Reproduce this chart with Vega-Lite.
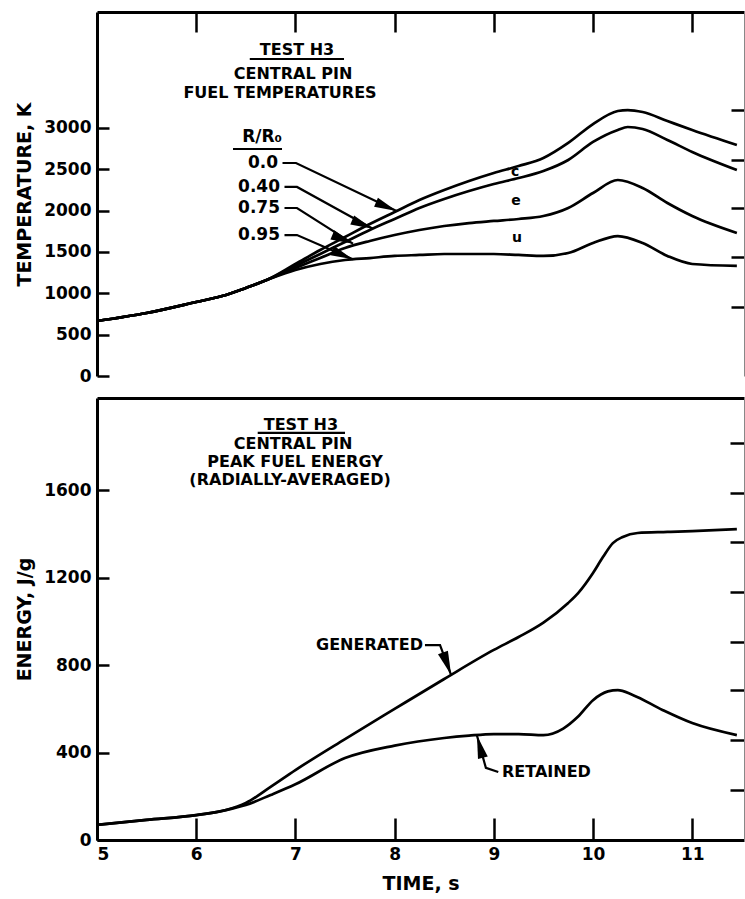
{
  "$schema": "https://vega.github.io/schema/vega-lite/v6.json",
  "background": "white",
  "padding": {"left": 15, "top": 10, "right": 0, "bottom": 4},
  "config": {
    "view": {"stroke": null},
    "font": "DejaVu Sans",
    "axis": {
      "grid": false,
      "format": "d",
      "domainColor": "black",
      "domainWidth": 3,
      "tickColor": "black",
      "tickWidth": 2.5,
      "labelColor": "black",
      "labelFont": "DejaVu Sans",
      "labelFontWeight": "bold",
      "labelFontSize": 17,
      "titleColor": "black",
      "titleFont": "DejaVu Sans",
      "titleFontWeight": "bold",
      "titleFontSize": 19
    }
  },
  "datasets": {
    "temperature": [
      {"time": 5.0, "radius": "0.0", "temp": 665}, {"time": 5.5, "radius": "0.0", "temp": 762}, {"time": 6.0, "radius": "0.0", "temp": 895}, {"time": 6.3, "radius": "0.0", "temp": 979}, {"time": 6.5, "radius": "0.0", "temp": 1064}, {"time": 6.71, "radius": "0.0", "temp": 1160},
      {"time": 7.0, "radius": "0.0", "temp": 1354}, {"time": 7.25, "radius": "0.0", "temp": 1523}, {"time": 7.5, "radius": "0.0", "temp": 1680}, {"time": 7.75, "radius": "0.0", "temp": 1837}, {"time": 8.0, "radius": "0.0", "temp": 1982}, {"time": 8.25, "radius": "0.0", "temp": 2127}, {"time": 8.5, "radius": "0.0", "temp": 2248}, {"time": 8.75, "radius": "0.0", "temp": 2357}, {"time": 9.0, "radius": "0.0", "temp": 2454}, {"time": 9.25, "radius": "0.0", "temp": 2538}, {"time": 9.5, "radius": "0.0", "temp": 2635}, {"time": 9.75, "radius": "0.0", "temp": 2817}, {"time": 10.0, "radius": "0.0", "temp": 3046}, {"time": 10.25, "radius": "0.0", "temp": 3203}, {"time": 10.35, "radius": "0.0", "temp": 3215}, {"time": 10.5, "radius": "0.0", "temp": 3191}, {"time": 10.75, "radius": "0.0", "temp": 3082}, {"time": 11.0, "radius": "0.0", "temp": 2974}, {"time": 11.45, "radius": "0.0", "temp": 2792},
      {"time": 5.0, "radius": "0.40", "temp": 665}, {"time": 5.5, "radius": "0.40", "temp": 762}, {"time": 6.0, "radius": "0.40", "temp": 895}, {"time": 6.3, "radius": "0.40", "temp": 979}, {"time": 6.5, "radius": "0.40", "temp": 1064}, {"time": 6.71, "radius": "0.40", "temp": 1160},
      {"time": 7.0, "radius": "0.40", "temp": 1330}, {"time": 7.25, "radius": "0.40", "temp": 1475}, {"time": 7.5, "radius": "0.40", "temp": 1620}, {"time": 7.75, "radius": "0.40", "temp": 1765}, {"time": 8.0, "radius": "0.40", "temp": 1898}, {"time": 8.25, "radius": "0.40", "temp": 2031}, {"time": 8.5, "radius": "0.40", "temp": 2140}, {"time": 8.75, "radius": "0.40", "temp": 2236}, {"time": 9.0, "radius": "0.40", "temp": 2321}, {"time": 9.25, "radius": "0.40", "temp": 2393}, {"time": 9.5, "radius": "0.40", "temp": 2478}, {"time": 9.75, "radius": "0.40", "temp": 2611}, {"time": 10.0, "radius": "0.40", "temp": 2829}, {"time": 10.25, "radius": "0.40", "temp": 2974}, {"time": 10.35, "radius": "0.40", "temp": 3010}, {"time": 10.5, "radius": "0.40", "temp": 2986}, {"time": 10.75, "radius": "0.40", "temp": 2853}, {"time": 11.0, "radius": "0.40", "temp": 2708}, {"time": 11.45, "radius": "0.40", "temp": 2490},
      {"time": 5.0, "radius": "0.75", "temp": 665}, {"time": 5.5, "radius": "0.75", "temp": 762}, {"time": 6.0, "radius": "0.75", "temp": 895}, {"time": 6.3, "radius": "0.75", "temp": 979}, {"time": 6.5, "radius": "0.75", "temp": 1064}, {"time": 6.71, "radius": "0.75", "temp": 1160},
      {"time": 7.0, "radius": "0.75", "temp": 1306}, {"time": 7.25, "radius": "0.75", "temp": 1426}, {"time": 7.5, "radius": "0.75", "temp": 1547}, {"time": 7.75, "radius": "0.75", "temp": 1632}, {"time": 8.0, "radius": "0.75", "temp": 1704}, {"time": 8.25, "radius": "0.75", "temp": 1765}, {"time": 8.5, "radius": "0.75", "temp": 1813}, {"time": 8.75, "radius": "0.75", "temp": 1849}, {"time": 9.0, "radius": "0.75", "temp": 1874}, {"time": 9.25, "radius": "0.75", "temp": 1898}, {"time": 9.5, "radius": "0.75", "temp": 1934}, {"time": 9.75, "radius": "0.75", "temp": 2031}, {"time": 10.0, "radius": "0.75", "temp": 2212}, {"time": 10.25, "radius": "0.75", "temp": 2369}, {"time": 10.5, "radius": "0.75", "temp": 2273}, {"time": 10.75, "radius": "0.75", "temp": 2091}, {"time": 11.0, "radius": "0.75", "temp": 1934}, {"time": 11.45, "radius": "0.75", "temp": 1729},
      {"time": 5.0, "radius": "0.95", "temp": 665}, {"time": 5.5, "radius": "0.95", "temp": 762}, {"time": 6.0, "radius": "0.95", "temp": 895}, {"time": 6.3, "radius": "0.95", "temp": 979}, {"time": 6.5, "radius": "0.95", "temp": 1064}, {"time": 6.71, "radius": "0.95", "temp": 1160},
      {"time": 7.0, "radius": "0.95", "temp": 1281}, {"time": 7.25, "radius": "0.95", "temp": 1354}, {"time": 7.5, "radius": "0.95", "temp": 1402}, {"time": 7.75, "radius": "0.95", "temp": 1426}, {"time": 8.0, "radius": "0.95", "temp": 1451}, {"time": 8.25, "radius": "0.95", "temp": 1463}, {"time": 8.5, "radius": "0.95", "temp": 1475}, {"time": 8.75, "radius": "0.95", "temp": 1475}, {"time": 9.0, "radius": "0.95", "temp": 1475}, {"time": 9.25, "radius": "0.95", "temp": 1463}, {"time": 9.5, "radius": "0.95", "temp": 1451}, {"time": 9.75, "radius": "0.95", "temp": 1487}, {"time": 10.0, "radius": "0.95", "temp": 1608}, {"time": 10.25, "radius": "0.95", "temp": 1692}, {"time": 10.5, "radius": "0.95", "temp": 1608}, {"time": 10.75, "radius": "0.95", "temp": 1451}, {"time": 11.0, "radius": "0.95", "temp": 1354}, {"time": 11.45, "radius": "0.95", "temp": 1330}
    ],
    "energy": [
      {"time": 5.0, "curve": "GENERATED", "energy": 69}, {"time": 5.5, "curve": "GENERATED", "energy": 92}, {"time": 6.0, "curve": "GENERATED", "energy": 114}, {"time": 6.3, "curve": "GENERATED", "energy": 137}, {"time": 6.5, "curve": "GENERATED", "energy": 169}, {"time": 6.75, "curve": "GENERATED", "energy": 243}, {"time": 7.0, "curve": "GENERATED", "energy": 320}, {"time": 7.5, "curve": "GENERATED", "energy": 462}, {"time": 8.0, "curve": "GENERATED", "energy": 600}, {"time": 8.5, "curve": "GENERATED", "energy": 737}, {"time": 9.0, "curve": "GENERATED", "energy": 870}, {"time": 9.25, "curve": "GENERATED", "energy": 929}, {"time": 9.5, "curve": "GENERATED", "energy": 995}, {"time": 9.75, "curve": "GENERATED", "energy": 1085}, {"time": 9.85, "curve": "GENERATED", "energy": 1130}, {"time": 10.0, "curve": "GENERATED", "energy": 1222}, {"time": 10.1, "curve": "GENERATED", "energy": 1295}, {"time": 10.2, "curve": "GENERATED", "energy": 1359}, {"time": 10.3, "curve": "GENERATED", "energy": 1387}, {"time": 10.45, "curve": "GENERATED", "energy": 1405}, {"time": 10.75, "curve": "GENERATED", "energy": 1410}, {"time": 11.0, "curve": "GENERATED", "energy": 1414}, {"time": 11.45, "curve": "GENERATED", "energy": 1423},
      {"time": 5.0, "curve": "RETAINED", "energy": 69}, {"time": 5.5, "curve": "RETAINED", "energy": 92}, {"time": 6.0, "curve": "RETAINED", "energy": 114}, {"time": 6.3, "curve": "RETAINED", "energy": 137}, {"time": 6.5, "curve": "RETAINED", "energy": 160}, {"time": 6.75, "curve": "RETAINED", "energy": 206}, {"time": 7.0, "curve": "RETAINED", "energy": 255}, {"time": 7.5, "curve": "RETAINED", "energy": 375}, {"time": 8.0, "curve": "RETAINED", "energy": 432}, {"time": 8.5, "curve": "RETAINED", "energy": 467}, {"time": 8.75, "curve": "RETAINED", "energy": 478}, {"time": 9.0, "curve": "RETAINED", "energy": 485}, {"time": 9.25, "curve": "RETAINED", "energy": 485}, {"time": 9.5, "curve": "RETAINED", "energy": 480}, {"time": 9.7, "curve": "RETAINED", "energy": 510}, {"time": 9.85, "curve": "RETAINED", "energy": 565}, {"time": 10.0, "curve": "RETAINED", "energy": 640}, {"time": 10.15, "curve": "RETAINED", "energy": 680}, {"time": 10.25, "curve": "RETAINED", "energy": 686}, {"time": 10.4, "curve": "RETAINED", "energy": 664}, {"time": 10.7, "curve": "RETAINED", "energy": 595}, {"time": 11.0, "curve": "RETAINED", "energy": 535}, {"time": 11.45, "curve": "RETAINED", "energy": 480}
    ],
    "temp_headings": [
      {"time": 7.016, "temp": 3941, "note": "TEST  H3"},
      {"time": 6.976, "temp": 3650, "note": "CENTRAL PIN"},
      {"time": 6.845, "temp": 3415, "note": "FUEL TEMPERATURES"}
    ],
    "temp_keys": [
      {"time": 6.865, "temp": 2889, "note": "R/R₀"},
      {"time": 6.825, "temp": 2575, "note": "0.0"},
      {"time": 6.845, "temp": 2285, "note": "0.40"},
      {"time": 6.845, "temp": 2031, "note": "0.75"},
      {"time": 6.845, "temp": 1704, "note": "0.95"}
    ],
    "temp_letters": [
      {"time": 9.214, "temp": 2466, "note": "c"},
      {"time": 9.224, "temp": 2115, "note": "e"},
      {"time": 9.234, "temp": 1668, "note": "u"}
    ],
    "temp_strokes": [
      {"path": "heading rule", "seq": 1, "time": 6.54, "temp": 3832},
      {"path": "heading rule", "seq": 2, "time": 7.49, "temp": 3832},
      {"path": "key rule", "seq": 1, "time": 6.371, "temp": 2744},
      {"path": "key rule", "seq": 2, "time": 6.865, "temp": 2744},
      {"path": "0.0", "seq": 1, "time": 6.87, "temp": 2575},
      {"path": "0.0", "seq": 2, "time": 7.006, "temp": 2575},
      {"path": "0.0", "seq": 3, "time": 8.02, "temp": 1995},
      {"path": "0.40", "seq": 1, "time": 6.89, "temp": 2285},
      {"path": "0.40", "seq": 2, "time": 7.016, "temp": 2285},
      {"path": "0.40", "seq": 3, "time": 7.78, "temp": 1780},
      {"path": "0.75", "seq": 1, "time": 6.89, "temp": 2031},
      {"path": "0.75", "seq": 2, "time": 7.016, "temp": 2031},
      {"path": "0.75", "seq": 3, "time": 7.58, "temp": 1600},
      {"path": "0.95", "seq": 1, "time": 6.89, "temp": 1704},
      {"path": "0.95", "seq": 2, "time": 7.016, "temp": 1704},
      {"path": "0.95", "seq": 3, "time": 7.58, "temp": 1410}
    ],
    "temp_arrows": [
      {"time": 8.02, "temp": 1995},
      {"time": 7.78, "temp": 1780},
      {"time": 7.58, "temp": 1600},
      {"time": 7.58, "temp": 1410}
    ],
    "energy_headings": [
      {"time": 7.056, "energy": 1899, "note": "TEST  H3"},
      {"time": 6.976, "energy": 1812, "note": "CENTRAL PIN"},
      {"time": 6.996, "energy": 1730, "note": "PEAK FUEL ENERGY"},
      {"time": 6.946, "energy": 1648, "note": "(RADIALLY-AVERAGED)"}
    ],
    "energy_strokes": [
      {"path": "heading rule", "seq": 1, "time": 6.62, "energy": 1863},
      {"path": "heading rule", "seq": 2, "time": 7.5, "energy": 1863},
      {"path": "GENERATED", "seq": 1, "time": 8.306, "energy": 892},
      {"path": "GENERATED", "seq": 2, "time": 8.458, "energy": 892},
      {"path": "GENERATED", "seq": 3, "time": 8.57, "energy": 755},
      {"path": "RETAINED", "seq": 1, "time": 9.045, "energy": 311},
      {"path": "RETAINED", "seq": 2, "time": 8.92, "energy": 330},
      {"path": "RETAINED", "seq": 3, "time": 8.83, "energy": 478}
    ]
  },
  "vconcat": [
    {
      "width": 647,
      "height": 364,
      "layer": [
        {
          "data": {"name": "temperature"},
          "mark": {"type": "line", "color": "black", "strokeWidth": 2.7, "interpolate": "monotone"},
          "encoding": {
            "x": {"field": "time", "type": "quantitative", "scale": {"domain": [5, 11.522], "nice": false, "zero": false},
                  "axis": {"orient": "top", "values": [6, 7, 8, 9, 10, 11], "labels": false, "title": null, "tickSize": -20}},
            "y": {"field": "temp", "type": "quantitative", "scale": {"domain": [0, 4400], "nice": false},
                  "axis": {"orient": "left", "values": [0, 500, 1000, 1500, 2000, 2500, 3000], "tickSize": -12, "labelPadding": 18,
                           "title": "TEMPERATURE, K", "titlePadding": 8, "minExtent": 55, "maxExtent": 55}},
            "detail": {"field": "radius"}
          }
        },
        {
          "data": {"name": "temp_headings"},
          "mark": {"type": "text", "fontWeight": "bold", "fontSize": 16, "align": "center", "baseline": "middle", "color": "black"},
          "encoding": {
            "x": {"field": "time", "type": "quantitative", "scale": {"domain": [5, 11.522], "nice": false, "zero": false}, "axis": null},
            "y": {"field": "temp", "type": "quantitative", "scale": {"domain": [0, 4400], "nice": false},
                  "axis": {"orient": "right", "values": [834, 1438, 2031, 2611, 3215], "labels": false, "title": null, "tickSize": -13, "domainWidth": 1, "domainColor": "#888888"}},
            "text": {"field": "note"}
          }
        },
        {
          "data": {"name": "temp_keys"},
          "mark": {"type": "text", "fontWeight": "bold", "fontSize": 17, "align": "right", "baseline": "middle", "color": "black"},
          "encoding": {
            "x": {"field": "time", "type": "quantitative", "scale": {"domain": [5, 11.522], "nice": false, "zero": false}, "axis": null},
            "y": {"field": "temp", "type": "quantitative", "scale": {"domain": [0, 4400], "nice": false}, "axis": null},
            "text": {"field": "note"}
          }
        },
        {
          "data": {"name": "temp_letters"},
          "mark": {"type": "text", "fontWeight": "bold", "fontSize": 14, "align": "center", "baseline": "middle", "color": "black"},
          "encoding": {
            "x": {"field": "time", "type": "quantitative", "scale": {"domain": [5, 11.522], "nice": false, "zero": false}, "axis": null},
            "y": {"field": "temp", "type": "quantitative", "scale": {"domain": [0, 4400], "nice": false}, "axis": null},
            "text": {"field": "note"}
          }
        },
        {
          "data": {"name": "temp_strokes"},
          "mark": {"type": "line", "color": "black", "strokeWidth": 2.2},
          "encoding": {
            "x": {"field": "time", "type": "quantitative", "scale": {"domain": [5, 11.522], "nice": false, "zero": false}, "axis": null},
            "y": {"field": "temp", "type": "quantitative", "scale": {"domain": [0, 4400], "nice": false}, "axis": null},
            "detail": {"field": "path"},
            "order": {"field": "seq"}
          }
        },
        {
          "data": {"name": "temp_arrows"},
          "mark": {"type": "point", "shape": "M 0 0 L -1 -0.22 L -1 0.22 Z", "filled": true, "color": "black", "opacity": 1, "size": 2000, "angle": 23},
          "encoding": {
            "x": {"field": "time", "type": "quantitative", "scale": {"domain": [5, 11.522], "nice": false, "zero": false}, "axis": null},
            "y": {"field": "temp", "type": "quantitative", "scale": {"domain": [0, 4400], "nice": false}, "axis": null}
          }
        },
        {
          "mark": {"type": "rule", "color": "black", "strokeWidth": 2.5},
          "encoding": {
            "x": {"datum": 5, "type": "quantitative", "scale": {"domain": [5, 11.522], "nice": false, "zero": false}, "axis": null},
            "x2": {"datum": 11.522},
            "y": {"datum": 230, "type": "quantitative", "scale": {"domain": [0, 4400], "nice": false}, "axis": null}
          }
        }
      ],
      "resolve": {"axis": {"x": "independent", "y": "independent"}}
    },
    {
      "width": 647,
      "height": 442,
      "layer": [
        {
          "data": {"name": "energy"},
          "mark": {"type": "line", "color": "black", "strokeWidth": 2.7, "interpolate": "monotone"},
          "encoding": {
            "x": {"field": "time", "type": "quantitative", "scale": {"domain": [5, 11.522], "nice": false, "zero": false},
                  "axis": {"orient": "bottom", "values": [5, 6, 7, 8, 9, 10, 11], "tickSize": -22, "labelPadding": 28,
                           "title": "TIME, s", "titlePadding": 12}},
            "y": {"field": "energy", "type": "quantitative", "scale": {"domain": [0, 2023], "nice": false},
                  "axis": {"orient": "left", "values": [0, 400, 800, 1200, 1600], "tickSize": -12, "labelPadding": 18,
                           "title": "ENERGY, J/g", "titlePadding": 8, "minExtent": 55, "maxExtent": 55}},
            "detail": {"field": "curve"}
          }
        },
        {
          "data": {"name": "energy_headings"},
          "mark": {"type": "text", "fontWeight": "bold", "fontSize": 16, "align": "center", "baseline": "middle", "color": "black"},
          "encoding": {
            "x": {"field": "time", "type": "quantitative", "scale": {"domain": [5, 11.522], "nice": false, "zero": false},
                  "axis": {"orient": "top", "ticks": false, "labels": false, "title": null}},
            "y": {"field": "energy", "type": "quantitative", "scale": {"domain": [0, 2023], "nice": false},
                  "axis": {"orient": "right", "values": [229, 458, 687, 906, 1135, 1364, 1588, 1817], "labels": false, "title": null, "tickSize": -14, "domainWidth": 1, "domainColor": "#888888"}},
            "text": {"field": "note"}
          }
        },
        {
          "data": {"values": [{"time": 8.286, "energy": 892, "note": "GENERATED"}]},
          "mark": {"type": "text", "fontWeight": "bold", "fontSize": 16, "align": "right", "baseline": "middle", "color": "black"},
          "encoding": {
            "x": {"field": "time", "type": "quantitative", "scale": {"domain": [5, 11.522], "nice": false, "zero": false}, "axis": null},
            "y": {"field": "energy", "type": "quantitative", "scale": {"domain": [0, 2023], "nice": false}, "axis": null},
            "text": {"field": "note"}
          }
        },
        {
          "data": {"values": [{"time": 9.083, "energy": 311, "note": "RETAINED"}]},
          "mark": {"type": "text", "fontWeight": "bold", "fontSize": 16, "align": "left", "baseline": "middle", "color": "black"},
          "encoding": {
            "x": {"field": "time", "type": "quantitative", "scale": {"domain": [5, 11.522], "nice": false, "zero": false}, "axis": null},
            "y": {"field": "energy", "type": "quantitative", "scale": {"domain": [0, 2023], "nice": false}, "axis": null},
            "text": {"field": "note"}
          }
        },
        {
          "data": {"name": "energy_strokes"},
          "mark": {"type": "line", "color": "black", "strokeWidth": 2.2},
          "encoding": {
            "x": {"field": "time", "type": "quantitative", "scale": {"domain": [5, 11.522], "nice": false, "zero": false}, "axis": null},
            "y": {"field": "energy", "type": "quantitative", "scale": {"domain": [0, 2023], "nice": false}, "axis": null},
            "detail": {"field": "path"},
            "order": {"field": "seq"}
          }
        },
        {
          "data": {"values": [{"time": 8.57, "energy": 755}]},
          "mark": {"type": "point", "shape": "M 0 0 L -1 -0.22 L -1 0.22 Z", "filled": true, "color": "black", "opacity": 1, "size": 2300, "angle": 70},
          "encoding": {
            "x": {"field": "time", "type": "quantitative", "scale": {"domain": [5, 11.522], "nice": false, "zero": false}, "axis": null},
            "y": {"field": "energy", "type": "quantitative", "scale": {"domain": [0, 2023], "nice": false}, "axis": null}
          }
        },
        {
          "data": {"values": [{"time": 8.83, "energy": 478}]},
          "mark": {"type": "point", "shape": "M 0 0 L -1 -0.22 L -1 0.22 Z", "filled": true, "color": "black", "opacity": 1, "size": 2100, "angle": 255},
          "encoding": {
            "x": {"field": "time", "type": "quantitative", "scale": {"domain": [5, 11.522], "nice": false, "zero": false}, "axis": null},
            "y": {"field": "energy", "type": "quantitative", "scale": {"domain": [0, 2023], "nice": false}, "axis": null}
          }
        }
      ],
      "resolve": {"axis": {"x": "independent", "y": "independent"}}
    }
  ],
  "spacing": 22,
  "bounds": "flush"
}
